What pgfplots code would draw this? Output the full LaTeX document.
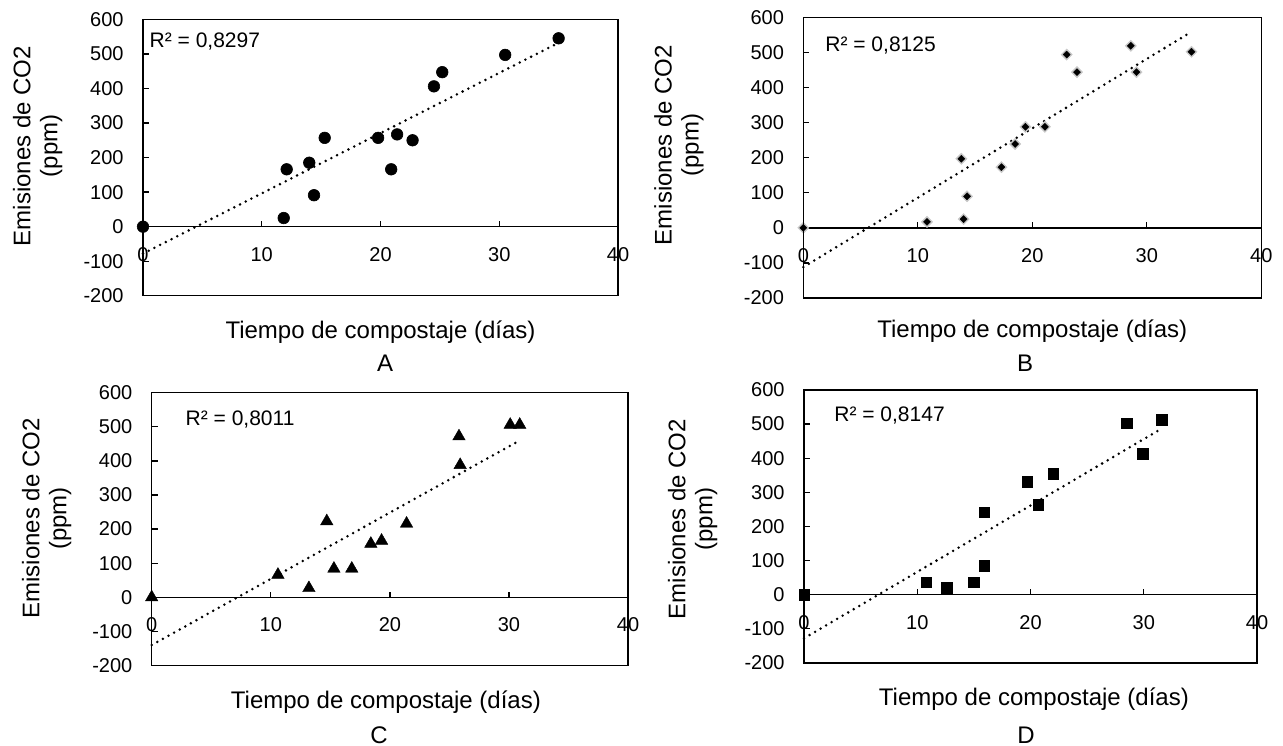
\documentclass[border=0pt]{standalone}
\usepackage{fontspec}
\setmainfont{Liberation Sans}
\usepackage{pgfplots}
\pgfplotsset{compat=1.18}

\pgfplotsset{
  panel/.style={
    scale only axis,
    anchor=south west,
    xmin=0, xmax=40, ymin=-200, ymax=600,
    axis x line*=middle,
    axis y line*=left,
    hide obscured x ticks=false,
    hide obscured y ticks=false,
    xtick={0,10,20,30,40},
    ytick={-200,-100,...,600},
    tick align=inside,
    major tick length=2.9pt,
    tick style={black, line width=0.65pt},
    axis line style={black, line width=0.65pt},
    /pgf/number format/assume math mode=true,
    tick label style={font=\fontsize{10}{12}\selectfont, inner sep=0pt},
    xticklabel style={anchor=north, yshift=-10pt},
    yticklabel style={anchor=east, xshift=-9.5pt},
    label style={font=\fontsize{12}{13.5}\selectfont},
    xlabel={Tiempo de compostaje (días)},
    ylabel={Emisiones de CO2\\(ppm)},
    clip=false,
    extra description/.code={\draw[black, line width=0.65pt] (0,0) rectangle (1,1);},
  },
  trend/.style={black, line width=1.4pt, line cap=round, dash pattern=on 0pt off 3.2pt, no marks},
}
\tikzset{rsq/.style={anchor=base west, inner sep=0pt, font=\fontsize{10.5}{12}\selectfont}}

\begin{document}
\begin{tikzpicture}
\useasboundingbox (0,0) rectangle (641.5pt,372.5pt);

% ---------------- A ----------------
\begin{axis}[panel, at={(71.5pt,224.6pt)}, width=237.5pt, height=138.25pt,
  xlabel style={at={(axis description cs:0.5,0)}, anchor=base, yshift=-21.1pt},
  ylabel style={at={(axis description cs:-0.2217,0.5418)}, anchor=center, align=center}]
\addplot[only marks, mark=*, mark size=2.9pt, mark options={fill=black, draw=black, line width=0.3pt}]
coordinates {(0,0) (11.85,25) (12.1,166) (14.0,185) (14.4,91) (15.3,257) (19.8,257) (20.9,166) (21.4,267) (22.7,250) (24.5,406) (25.2,447) (30.5,497) (35.0,545)};
\addplot[trend] coordinates {(0,-78) (35,532)};
\node[rsq] at (axis description cs:0.0133,0.8973) {R² = 0,8297};
\end{axis}

% ---------------- B ----------------
\begin{axis}[panel, at={(401.65pt,223.5pt)}, width=229pt, height=140.3pt,
  xlabel style={at={(axis description cs:0.5,0)}, anchor=base, yshift=-19.5pt},
  ylabel style={at={(axis description cs:-0.2714,0.545)}, anchor=center, align=center}]
\addplot[only marks, mark=square*, mark size=2.0pt, mark options={rotate=45, fill=black!22, draw=black!22, line width=0.2pt}]
coordinates {(0,0) (10.8,17) (13.8,197) (14.0,25) (14.3,90) (17.3,173) (18.5,239) (19.4,288) (21.1,288) (23.0,494) (23.9,444) (28.6,519) (29.1,444) (33.9,502)};
\addplot[only marks, mark=square*, mark size=1.25pt, mark options={rotate=45, fill=black, draw=black, line width=0.2pt}]
coordinates {(0,0) (10.8,17) (13.8,197) (14.0,25) (14.3,90) (17.3,173) (18.5,239) (19.4,288) (21.1,288) (23.0,494) (23.9,444) (28.6,519) (29.1,444) (33.9,502)};
\addplot[trend] coordinates {(0,-112) (33.9,559)};
\node[rsq] at (axis description cs:0.0474,0.880) {R² = 0,8125};
\end{axis}

% ---------------- C ----------------
\begin{axis}[panel, at={(75.85pt,39.75pt)}, width=238.2pt, height=136.4pt,
  xlabel style={at={(axis description cs:0.5,0)}, anchor=base, yshift=-21.25pt, xshift=-2pt},
  ylabel style={at={(axis description cs:-0.2204,0.539)}, anchor=center, align=center}]
\addplot[only marks, mark=triangle*, mark size=3.6pt, mark options={fill=black, draw=black, line width=0.2pt}]
coordinates {(0,0) (10.6,66) (13.2,27) (14.7,223) (15.3,84) (16.8,84) (18.4,157) (19.3,166) (21.4,216) (25.8,472) (25.9,388) (30.1,506) (30.9,506)};
\addplot[trend] coordinates {(0,-140) (30.9,460)};
\node[rsq] at (axis description cs:0.0705,0.8816) {R² = 0,8011};
\end{axis}

% ---------------- D ----------------
\begin{axis}[panel, at={(402pt,41.05pt)}, width=226.5pt, height=136.5pt,
  xlabel style={at={(axis description cs:0.5,0)}, anchor=base, yshift=-21.5pt, xshift=1.7pt},
  ylabel style={at={(axis description cs:-0.2457,0.527)}, anchor=center, align=center}]
\addplot[only marks, mark=square*, mark size=2.6pt, mark options={fill=black, draw=black, line width=0.2pt}]
coordinates {(0,0) (10.8,36) (12.6,20) (15.0,36) (15.9,85) (15.9,241) (19.7,331) (20.7,264) (22.0,355) (28.5,502) (29.9,413) (31.6,513)};
\addplot[trend] coordinates {(0,-128) (31.6,487)};
\node[rsq] at (axis description cs:0.0662,0.884) {R² = 0,8147};
\end{axis}

\node[anchor=base, inner sep=0pt, font=\fontsize{12}{14}\selectfont] at (192.5pt,186.5pt) {A};
\node[anchor=base, inner sep=0pt, font=\fontsize{12}{14}\selectfont] at (512.5pt,186.5pt) {B};
\node[anchor=base, inner sep=0pt, font=\fontsize{12}{14}\selectfont] at (189.5pt,1pt) {C};
\node[anchor=base, inner sep=0pt, font=\fontsize{12}{14}\selectfont] at (513pt,1pt) {D};
\end{tikzpicture}
\end{document}
